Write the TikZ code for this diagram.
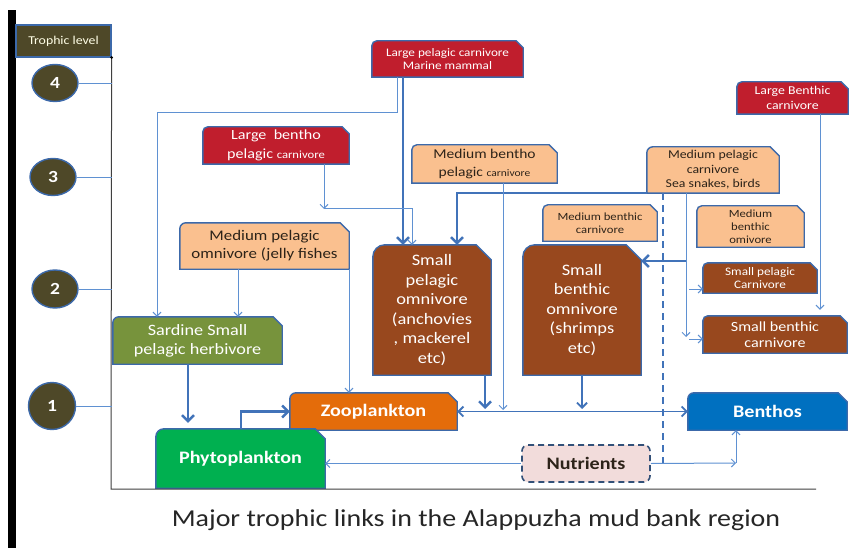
\documentclass[tikz,border=0pt]{standalone}
\usepackage{fontspec}
\setmainfont[FakeStretch=1.15]{Carlito}
\usetikzlibrary{arrows.meta,calc,shapes.geometric}
\pgfdeclarelayer{bg}
\pgfsetlayers{bg,main}
\definecolor{cred}{RGB}{192,30,45}
\definecolor{corange}{RGB}{250,192,143}
\definecolor{cbrown}{RGB}{152,72,30}
\definecolor{colive}{RGB}{119,147,60}
\definecolor{czoo}{RGB}{228,108,10}
\definecolor{cphyto}{RGB}{0,176,80}
\definecolor{cben}{RGB}{0,112,192}
\definecolor{cnutfill}{RGB}{242,220,219}
\definecolor{cnutdraw}{RGB}{50,80,120}
\definecolor{cborder}{RGB}{60,105,170}
\definecolor{cline}{RGB}{95,145,210}
\definecolor{cthick}{RGB}{65,115,185}
\definecolor{cdark}{RGB}{78,72,40}
\definecolor{ctext}{RGB}{45,35,25}
\definecolor{ctitle}{RGB}{38,38,38}
\newcommand\myfs[2]{\fontsize{#1}{#2}\selectfont}
\newcommand\snipshape[5]{%
  \begin{pgfonlayer}{bg}
  \path[fill=#2,draw=#3,line width=1.4pt] let \p1=(#1.south west), \p2=(#1.north east) in
   (\x1,\y1) -- (\x1,\y2-#4pt) arc[start angle=180,end angle=90,radius=#4pt]
   -- (\x2-#5pt,\y2) -- (\x2,\y2-#5pt) -- (\x2,\y1) -- cycle;
  \end{pgfonlayer}}
\begin{document}
\begin{tikzpicture}[x=1pt,y=-1pt,
  bx/.style={inner sep=0pt,align=center},
  thn/.style={draw=cline,line width=1pt,-{Straight Barb[length=4pt,width=8pt]}},
  thk/.style={draw=cthick,line width=2.4pt,-{Straight Barb[length=6pt,width=12pt]}},
  medln/.style={draw=cthick,line width=1.8pt,-{Straight Barb[length=5pt,width=10pt]}},
  dsh/.style={draw=cthick,line width=2.6pt,dash pattern=on 7pt off 5pt},
  lvl/.style={draw=cline,line width=0.9pt},
  axisln/.style={draw=black!75,line width=1pt},
  lvlnum/.style={ellipse,fill=cdark,draw=cborder,line width=1.4pt,inner sep=0pt,
    text=white,font=\bfseries\myfs{17}{20}}]
\useasboundingbox (0,0) rectangle (851,548);
\begin{pgfonlayer}{bg}
\fill[white] (0,0) rectangle (851,548);
\end{pgfonlayer}
% left bar and axis
\fill[black] (8,10) rectangle (16,548);
\node[bx,minimum width=95,minimum height=32,fill=cdark,draw=cborder,line width=1.2pt,
  text=white!90!yellow,font=\myfs{12}{14}] (tl) at (63.5,41) {Trophic level};
\draw[axisln] (tl.south east) -- (111,489) -- (816,489);
\fill[black] (tl.south east) circle (1.5pt);
\node[lvlnum,minimum width=46,minimum height=37] (c4) at (55,83) {4};
\node[lvlnum,minimum width=46,minimum height=37] (c3) at (53,177) {3};
\node[lvlnum,minimum width=46,minimum height=38] (c2) at (55,289) {2};
\node[lvlnum,minimum width=47,minimum height=47] (c1) at (52,406) {1};
\foreach \c in {c4,c3,c2,c1} \draw[lvl] (\c.east) -- (\c.east -| tl.south east);
% boxes
\node[bx,minimum width=151,minimum height=36,text=white,font=\myfs{11.5}{13.5}] (lpc) at (447.5,59) {Large pelagic carnivore\\Marine mammal};
\snipshape{lpc}{cred}{cborder}{5}{7}
\node[bx,minimum width=146,minimum height=37,text=white,font=\myfs{14}{19}] (lbpc) at (276,145.5) {Large\ \ bentho\\pelagic {\myfs{11}{13}carnivore}};
\snipshape{lbpc}{cred}{cborder}{5}{7}
\node[bx,minimum width=145,minimum height=38,text=ctext,font=\myfs{13.5}{18}] (mbpc) at (484.5,164) {Medium bentho\\pelagic {\myfs{10}{12}carnivore}};
\snipshape{mbpc}{corange}{cborder}{5}{8}
\node[bx,minimum width=132,minimum height=46,text=ctext,font=\myfs{12}{14.5}] (mpc) at (713,170) {Medium pelagic\\carnivore\\Sea snakes, birds};
\snipshape{mpc}{corange}{cborder}{6}{9}
\node[bx,minimum width=111,minimum height=32,text=white,font=\myfs{12}{15}] (lbc) at (792.5,98) {Large Benthic\\carnivore};
\snipshape{lbc}{cred}{cborder}{5}{7}
\node[bx,minimum width=114,minimum height=36,text=ctext,font=\myfs{11}{13}] (mbc) at (600,223) {Medium benthic\\carnivore};
\snipshape{mbc}{corange}{cborder}{5}{7}
\node[bx,minimum width=107,minimum height=41,text=ctext,font=\myfs{11}{13}] (mbo) at (750.5,226.5) {Medium\\benthic\\omivore};
\snipshape{mbo}{corange}{cborder}{5}{7}
\node[bx,minimum width=114,minimum height=30,text=white,font=\myfs{11.5}{13.5}] (spc) at (760,278) {Small pelagic\\Carnivore};
\snipshape{spc}{cbrown}{cborder}{5}{7}
\node[bx,minimum width=144,minimum height=37,text=white,font=\myfs{14}{16.5}] (sbc) at (775,334.5) {Small benthic\\carnivore};
\snipshape{sbc}{cbrown}{cborder}{5}{7}
\node[bx,minimum width=169,minimum height=46,text=ctext,font=\myfs{14.7}{18}] (mpo) at (264.5,246) {Medium pelagic\\omnivore (jelly fishes};
\snipshape{mpo}{corange}{cborder}{6}{9}
\node[bx,minimum width=169,minimum height=47,text=white,font=\myfs{15.8}{19}] (sard) at (197.5,340.5) {Sardine Small\\pelagic herbivore};
\snipshape{sard}{colive}{cborder}{6}{9}
\node[bx,minimum width=118,minimum height=130,text=white,font=\myfs{16}{19.5}] (spo) at (432,310) {Small\\pelagic\\omnivore\\(anchovies\\, mackerel\\etc)};
\snipshape{spo}{cbrown}{cborder}{12}{15}
\node[bx,minimum width=118,minimum height=130,text=white,font=\myfs{16}{19.5}] (sbo) at (582,310) {Small\\benthic\\omnivore\\(shrimps\\etc)};
\snipshape{sbo}{cbrown}{cborder}{12}{15}
\node[bx,minimum width=167,minimum height=37,text=white,font=\bfseries\myfs{17.5}{20}] (zoo) at (373.5,411.5) {Zooplankton};
\snipshape{zoo}{czoo}{cborder}{6}{9}
\node[bx,minimum width=169,minimum height=59,text=white,font=\bfseries\myfs{17.5}{20}] (phyto) at (240.5,458.5) {Phytoplankton};
\snipshape{phyto}{cphyto}{cborder}{8}{10}
\node[bx,minimum width=159,minimum height=37,text=white,font=\bfseries\myfs{17.5}{20}] (ben) at (767.5,411.5) {Benthos};
\snipshape{ben}{cben}{cborder}{6}{9}
\node[bx,minimum width=128,minimum height=37,text=ctext,font=\bfseries\myfs{17.5}{20},
  fill=cnutfill,draw=cnutdraw,line width=1.6pt,dash pattern=on 6pt off 4pt,rounded corners=6pt] (nut) at (586,463.5) {Nutrients};
% connectors
\draw[thk] (lpc.south -| 403,0) -- (spo.north -| 403,0);
\draw[thn] (lpc.south -| 397,0) -- (397,113) -| (sard.north -| 157,0);
\coordinate (j1) at (324,209);
\draw[thn] (lbpc.south -| 324,0) -- (j1);
\draw[thn] (j1) -| (spo.north -| 412,0);
\draw[thk] (mpc.south west) -| (spo.north -| 457,0);
\coordinate (h503) at (503,410);
\draw[thn] (mbpc.south -| 503,0) -- (h503);
\coordinate (v686) at (686,337);
\draw[thn] (mpc.south -| 686,0) -- (v686);
\draw[thk] (686,261) -- (sbo.east |- 0,261);
\draw[thn] (689,289) -- (spc.west |- 0,289);
\draw[thn] (689,339) -- (sbc.west |- 0,339);
\draw[thn,shorten >=6pt] (lbc.south -| 820,0) -- (sbc.north -| 820,0);
\draw[dsh] (mpc.south -| 663,0) -- (663,463);
\draw[thn] (mpo.south -| 238,0) -- (sard.north -| 238,0);
\draw[thn] (mpo.south -| 349,0) -- (zoo.north -| 349,0);
\draw[thk,shorten >=6pt] (sard.south -| 188,0) -- (phyto.north -| 188,0);
\draw[thk] (phyto.north -| 241,0) |- (zoo.west);
\draw[medln,{Straight Barb[length=5pt,width=10pt]}-{Straight Barb[length=5pt,width=10pt]}] (zoo.east) -- (ben.west);
\draw[thk] (spo.south -| 485,0) -- (485,409);
\draw[medln] (sbo.south -| 582,0) -- (582,409);
\draw[thn] (nut.west) -- (phyto.east |- nut.west);
\coordinate (n736) at (736,463);
\draw[thn] (nut.east) -- (n736);
\draw[thn] (n736) -- (ben.south -| n736);
% title
\node[font=\myfs{24.3}{28},text=ctitle,inner sep=0pt] (title) at (476,520) {Major trophic links in the Alappuzha mud bank region};
\end{tikzpicture}
\end{document}
